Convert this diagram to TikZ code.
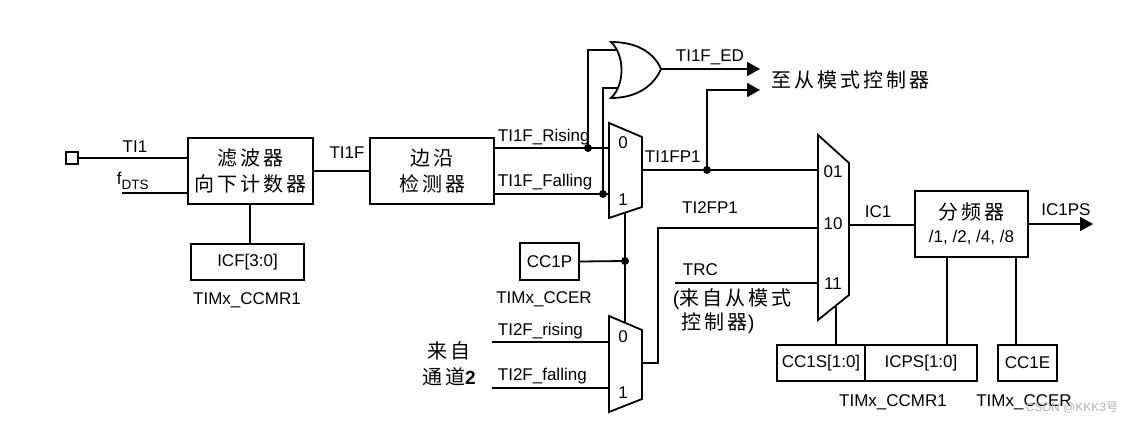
\documentclass[tikz,border=0pt]{standalone}
\usepackage{fontspec}
\setmainfont{Liberation Sans}
\newfontfamily\cjk[LetterSpace=15]{Noto Sans CJK SC}
\newfontfamily\cjkplain{Noto Sans CJK SC}
\usetikzlibrary{arrows.meta}
\begin{document}
\begin{tikzpicture}[x=1pt,y=-1pt,line width=1.8pt,
  lbl/.style={font=\fontsize{17}{20}\selectfont,inner sep=0},
  zh/.style={font=\cjk\fontsize{20}{26}\selectfont,inner sep=0,align=center},
  box/.style={draw,inner sep=0,line width=1.8pt},
  dot/.style={circle,fill,inner sep=0,minimum size=8pt},
  arr/.style={-{Triangle[length=13pt,width=14pt]}},
  mux/.style={draw,line width=1.8pt,line join=miter}]
\useasboundingbox (0,0) rectangle (1129,422);

% ---- boxes
\node[box,minimum size=12pt] (pin) at (72,158) {};
\node[box,zh,minimum width=125pt,minimum height=66pt] (filter) at (250.5,171) {滤波器\\向下计数器};
\node[box,lbl,minimum width=113pt,minimum height=36pt] (icf) at (247.5,262) {ICF[3:0]};
\node[box,zh,minimum width=124pt,minimum height=66pt] (edge) at (432,171) {边沿\\检测器};
\node[box,lbl,minimum width=59pt,minimum height=37pt] (cc1p) at (549.5,261.5) {CC1P};
\node[box,align=center,inner sep=0,minimum width=113pt,minimum height=66pt,font=\fontsize{17}{23}\selectfont] (presc) at (971.5,224) {{\cjk\fontsize{20}{23}\selectfont 分频器}\\/1, /2, /4, /8};
\node[box,lbl,minimum width=88pt,minimum height=36pt] (cc1s) at (821,363) {CC1S[1:0]};
\node[box,lbl,minimum width=112pt,minimum height=36pt] (icps) at (921,363) {ICPS[1:0]};
\node[box,lbl,minimum width=59pt,minimum height=36pt] (cc1e) at (1027.5,363) {CC1E};

% ---- multiplexers
\draw[mux] (609,123) -- (642,137) -- (642,207) -- (609,218) -- cycle;
\draw[mux] (609,316) -- (642,330) -- (642,399) -- (609,412) -- cycle;
\draw[mux] (818,135) -- (849,163) -- (849,295) -- (818,320) -- cycle;
\node[lbl] (m1l0) at (623,143) {0};
\node[lbl] (m1l1) at (623,200) {1};
\node[lbl] (m3l0) at (623,337) {0};
\node[lbl] (m3l1) at (623,393) {1};
\node[lbl] (m2l01) at (833,172) {01};
\node[lbl] (m2l10) at (833,224) {10};
\node[lbl] (m2l11) at (833,284) {11};
\coordinate (m1in0) at (609,148);
\coordinate (m1in1) at (609,194);
\coordinate (m1out) at (642,170);
\coordinate (m1sel) at (625,212.7);
\coordinate (m3sel) at (625,322.8);
\coordinate (m3in0) at (609,342);
\coordinate (m3in1) at (609,388);
\coordinate (m3out) at (642,363);
\coordinate (m2in01) at (818,170);
\coordinate (m2in10) at (818,228);
\coordinate (m2in11) at (818,283);
\coordinate (m2out) at (849,225);
\coordinate (m2sel) at (836,305.5);

% ---- OR gate
\draw (611,42) .. controls (625,55) and (625,85) .. (611,98)
  .. controls (640,98) and (655,83) .. (661,69)
  .. controls (655,55) and (640,42) .. (611,42) -- cycle;
\coordinate (or1) at (616.4,50);
\coordinate (or2) at (617.2,88);
\coordinate (orout) at (661,69);

% ---- left wires
\coordinate (fdts) at (122,193);
\draw (pin.east) -- (filter.west |- pin.east);
\draw (fdts) -- (filter.west |- fdts);
\node[lbl,anchor=base] (ti1) at (135,153) {TI1};
\node[lbl,anchor=base west] (fdtsl) at (116,185) {f\raisebox{-4.5pt}{\fontsize{13.5}{14}\selectfont DTS}};
\draw (filter.south -| icf.north) ++(2.5,0) coordinate (fs) -- (fs |- icf.north);
\node[lbl] (ccmr1a) at (247,300) {TIMx\_CCMR1};
\draw (filter.east) -- (edge.west);
\node[lbl] (ti1f) at (347,153) {TI1F};

% ---- edge detector outputs
\coordinate (rise) at (494,148);
\coordinate (fall) at (494,194);
\draw (rise) -- (m1in0);
\draw (fall) -- (m1in1);
\node[lbl,anchor=base west] (risel) at (497,142) {TI1F\_Rising};
\node[lbl,anchor=base west] (falll) at (497,187) {TI1F\_Falling};
\node[dot] (d1) at (588,148) {};
\node[dot] (d2) at (603,194) {};
\draw (d1.center) |- (or1);
\draw (d2.center) |- (or2);

% ---- OR output
\coordinate (ored) at (760,69);
\draw[arr] (orout) -- (ored);
\node[lbl,anchor=base west] (edl) at (675,62) {TI1F\_ED};
\node[zh,anchor=west] (toslave) at (771,80) {至从模式控制器};

% ---- TI1FP1
\draw (m1out) -- (m2in01);
\node[dot] (d3) at (707,170) {};
\coordinate (fp1a) at (760,90);
\draw[arr] (d3.center) |- (fp1a);
\node[lbl,anchor=base west] (fp1l) at (644,163) {TI1FP1};

% ---- polarity select
\node[dot] (d4) at (625,261) {};
\draw (m1sel) -- (m3sel);
\draw (cc1p.east) -- (d4.center);
\node[lbl] (ccer1) at (544,299) {TIMx\_CCER};

% ---- channel 2
\coordinate (r2) at (492,342);
\coordinate (f2) at (492,388);
\draw (r2) -- (m3in0);
\draw (f2) -- (m3in1);
\node[lbl,anchor=base west] (r2l) at (497,335) {TI2F\_rising};
\node[lbl,anchor=base west] (f2l) at (497,380) {TI2F\_falling};
\node[zh,align=center] (ch2) at (449,364) {来自\\通道{\rmfamily\bfseries\fontsize{19}{26}\selectfont 2}};
\draw (m3out) -- (658,363) |- (m2in10);
\node[lbl] (fp2l) at (710,208) {TI2FP1};

% ---- TRC
\coordinate (trc) at (675,283);
\draw (trc) -- (m2in11);
\node[lbl,anchor=base west] (trcl) at (682,275) {TRC};
\node[inner sep=0,anchor=west,font=\fontsize{20}{26}\selectfont] (trcz1) at (672,299) {(\cjk 来自从模式};
\node[inner sep=0,anchor=west,font=\fontsize{20}{26}\selectfont] (trcz2) at (681,323) {{\cjk 控制器})};

% ---- output side
\draw (m2out) -- (presc.west |- m2out);
\node[lbl] (ic1) at (878,212) {IC1};
\coordinate (ic1ps) at (1093,224);
\draw[arr] (presc.east) -- (ic1ps);
\node[lbl] (ic1psl) at (1066,210) {IC1PS};
\draw (m2sel) -- (m2sel |- cc1s.north);
\draw (947,257) coordinate (pb1) -- (pb1 |- icps.north);
\draw (1016,257) coordinate (pb2) -- (pb2 |- cc1e.north);
\node[lbl] (ccmr1b) at (893,402) {TIMx\_CCMR1};
\node[lbl] (ccer2) at (1024,402) {TIMx\_CCER};
\node[inner sep=0,text=black!30,font=\fontsize{12}{12}\selectfont] (wm) at (1072,408) {CSDN @KKK3{\cjkplain 号}};
\end{tikzpicture}
\end{document}
